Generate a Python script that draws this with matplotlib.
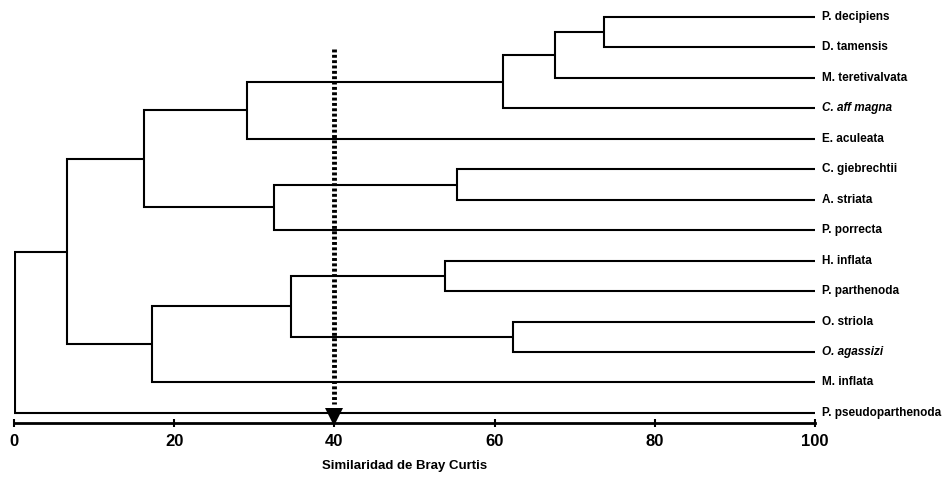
import matplotlib
matplotlib.use("Agg")
import matplotlib.pyplot as plt
from matplotlib import font_manager

leaves = ["P. decipiens", "D. tamensis", "M. teretivalvata", "C. aff magna",
          "E. aculeata", "C. giebrechtii", "A. striata", "P. porrecta",
          "H. inflata", "P. parthenoda", "O. striola", "O. agassizi",
          "M. inflata", "P. pseudoparthenoda"]
italic_leaves = ["C. aff magna", "O. agassizi"]

# merges: (child_a, child_b, similarity); new clusters get ids len(leaves)+k
merges = [
    (0, 1, 73.7),
    (14, 2, 67.5),
    (15, 3, 61.0),
    (16, 4, 29.1),
    (5, 6, 55.3),
    (18, 7, 32.5),
    (17, 19, 16.2),
    (8, 9, 53.8),
    (10, 11, 62.3),
    (21, 22, 34.6),
    (23, 12, 17.2),
    (20, 24, 6.6),
    (25, 13, 0.15),
]
xticks = [0, 20, 40, 60, 80, 100]
cut_value = 40
xlabel = "Similaridad de Bray Curtis"

names = [f.name for f in font_manager.fontManager.ttflist]
fam = ["Liberation Sans Narrow"] if "Liberation Sans Narrow" in names else ["Liberation Sans"]
fam = fam + ["DejaVu Sans"]

fig = plt.figure(figsize=(9.44, 4.82), dpi=100)
ax = fig.add_axes([14/944, (482-423)/482, (815-14)/944, (423-1.8)/482])

n = len(leaves)
pos = {i: (100.0, float(i)) for i in range(n)}
lw = 1.5
for k, (a, b, s) in enumerate(merges):
    xa, ya = pos[a]
    xb, yb = pos[b]
    ax.plot([xa, s, s, xb], [ya, ya, yb, yb], color="black", lw=lw,
            solid_joinstyle="miter", solid_capstyle="butt")
    pos[n + k] = (s, (ya + yb) / 2)

# dotted cut line with arrow head
ax.plot([cut_value, cut_value], [1.05, 12.7], color="black", lw=3.5,
        linestyle=(0, (0.6, 0.5)), dash_capstyle="butt")
ax.plot([cut_value], [13.13], marker="v", markersize=13.5, color="black",
        markeredgewidth=0, clip_on=False, zorder=5)

for i, name in enumerate(leaves):
    ax.text(100.9, i, name, va="center", ha="left", fontsize=8.5,
            fontweight="bold", family=fam,
            style="italic" if name in italic_leaves else "normal")

ax.set_xlim(0, 100)
ax.set_ylim(13.33, -0.5)
for sp in ["top", "right", "left"]:
    ax.spines[sp].set_visible(False)
ax.spines["bottom"].set_linewidth(2)
ax.spines["bottom"].set_bounds(0, 100)
ax.set_yticks([])
ax.set_xticks(xticks)
ax.set_xticklabels([str(t) for t in xticks], fontsize=12, fontweight="bold",
                   family=fam)
ax.tick_params(axis="x", direction="inout", length=6, width=1.5, pad=5)
fig.text(405/944, 1 - 466/482, xlabel, ha="center", va="center",
         fontsize=9.5, fontweight="bold", family=fam)
ax.patch.set_visible(False)
fig.savefig("out.png", dpi=100)
